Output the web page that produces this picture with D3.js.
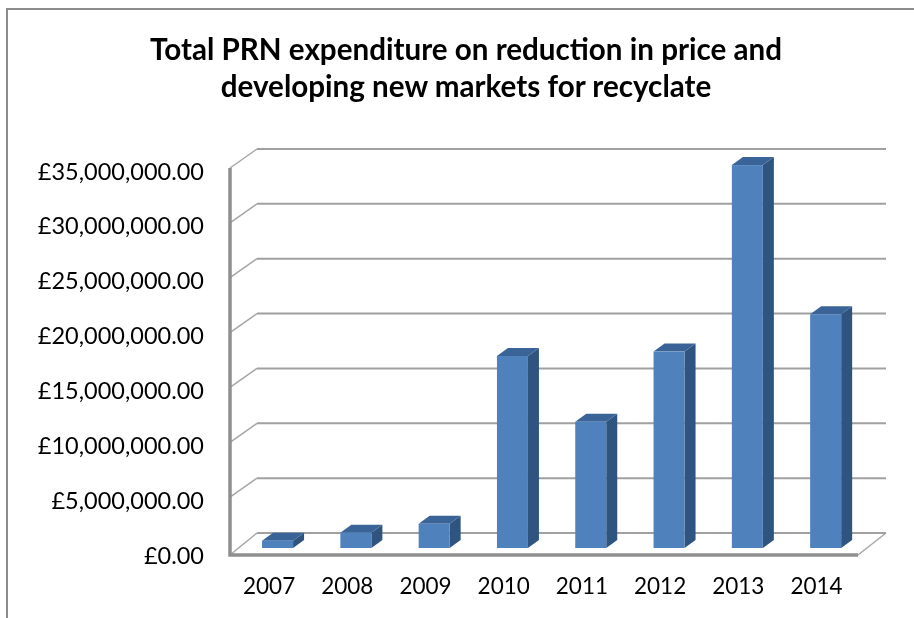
<!DOCTYPE html>
<html>
<head>
<meta charset="utf-8">
<script src="https://cdn.jsdelivr.net/npm/d3@7"></script>
<style>
  html, body { margin: 0; padding: 0; background: #fff; }
  text { font-family: Lato, "Open Sans", sans-serif; fill: #000; }
</style>
</head>
<body>
<div id="main"></div>
<script>
var years = ["2007", "2008", "2009", "2010", "2011", "2012", "2013", "2014"];
var spend = [670000, 1400000, 2200000, 17500000, 11500000, 17900000, 34900000, 21300000];
var yTicks = [0, 5000000, 10000000, 15000000, 20000000, 25000000, 30000000, 35000000];
var titleLines = ["Total PRN expenditure on reduction in price and", "developing new markets for recyclate"];

var width = 914, height = 618;
var depthX = 27, depthY = 19;//wall offset
var barDepthX = 11, barDepthY = 8;

var canvas = d3.select("#main").append("svg")
  .attr("width", width)
  .attr("height", height)
  .style("display", "block")
  .style("filter", "blur(0.45px)");//the reference is a soft upscaled screenshot

//outer frame, only top and left are in the crop
canvas.append("path")
  .attr("d", d3.line()([[7, height], [7, 9], [width, 9]]))
  .attr("fill", "none")
  .attr("stroke", "#8c8c8c")
  .attr("stroke-width", 2);

canvas.append("text")
  .selectAll("tspan").data(titleLines).enter().append("tspan")
  .attr("x", 466)
  .attr("y", function(d, i) { return 60 + i * 37; })
  .attr("text-anchor", "middle")
  .style("font-size", "29.6px")
  .style("font-weight", "bold")
  .text(function(d) { return d; });

var yScale = d3.scaleLinear().domain([0, 35000000]).range([552, 168]);//front plane
var labelX = d3.scaleBand().domain(years).range([230, 855.6]);
var barX = d3.scaleBand().domain(years).range([238.4, 864.8]).paddingInner(0.604).paddingOuter(0.302);

var money = function(d) { return "£" + d3.format(",.2f")(d); };

//back wall gridlines and the diagonals
var grid = canvas.append("g").selectAll("g").data(yTicks).enter().append("g");
grid.append("path")
  .attr("d", function(d) {
    var y = yScale(d) - depthY;
    return d3.line()([[230 + depthX, y], [886, y]]);
  })
  .attr("stroke", "#a0a0a0")
  .attr("stroke-width", 2);
grid.append("path")
  .attr("d", function(d) {
    var y = yScale(d) + (d === 0 ? 3 : 0);
    return d3.line()([[230, y], [230 + depthX, yScale(d) - depthY]]);
  })
  .attr("stroke", "#a6a6a6")
  .attr("stroke-width", 1.5);

//floor edge on the right
canvas.append("path")
  .attr("d", d3.line()([[858, 555], [886, yScale(0) - depthY]]))
  .attr("fill", "none")
  .attr("stroke", "#a6a6a6")
  .attr("stroke-width", 1.5);

//axis lines
canvas.append("path")
  .attr("d", d3.line()([[230, yScale(35000000)], [230, 555], [858, 555]]))
  .attr("fill", "none")
  .attr("stroke", "#8f8f8f")
  .attr("stroke-width", 3.5);

var yAxis = d3.axisLeft(yScale).tickValues(yTicks).tickFormat(money).tickSize(0).tickPadding(26);
var yG = canvas.append("g").attr("transform", "translate(230,3.5)").call(yAxis);
yG.select(".domain").remove();
yG.selectAll("text").style("font-size", "23.5px").style("font-family", "Lato, sans-serif");

var xAxis = d3.axisBottom(labelX).tickSize(0).tickPadding(18);
var xG = canvas.append("g").attr("transform", "translate(0,560)").call(xAxis);
xG.select(".domain").remove();
xG.selectAll("text").style("font-size", "22.5px").style("font-family", "Lato, sans-serif");

//bars, three faces each
var bars = canvas.append("g").selectAll("g").data(years).enter().append("g");
var faces = function(d, i) {
  return { x0: barX(d), x1: barX(d) + barX.bandwidth(), top: yScale(spend[i]) - 4, bottom: yScale(0) - 4 };
};
bars.append("path")
  .attr("fill", "#2f5480")
  .attr("d", function(d, i) {
    var f = faces(d, i);
    return d3.line()([[f.x1, f.top], [f.x1 + barDepthX, f.top - barDepthY], [f.x1 + barDepthX, f.bottom - barDepthY], [f.x1, f.bottom]]) + "Z";
  });
bars.append("path")
  .attr("fill", "#3a6497")
  .attr("d", function(d, i) {
    var f = faces(d, i);
    return d3.line()([[f.x0, f.top], [f.x0 + barDepthX, f.top - barDepthY], [f.x1 + barDepthX, f.top - barDepthY], [f.x1, f.top]]) + "Z";
  });
bars.append("rect")
  .attr("fill", "#4f81bd")
  .attr("x", function(d, i) { return faces(d, i).x0; })
  .attr("y", function(d, i) { return faces(d, i).top; })
  .attr("width", barX.bandwidth())
  .attr("height", function(d, i) { return faces(d, i).bottom - faces(d, i).top; });
</script>
</body>
</html>
